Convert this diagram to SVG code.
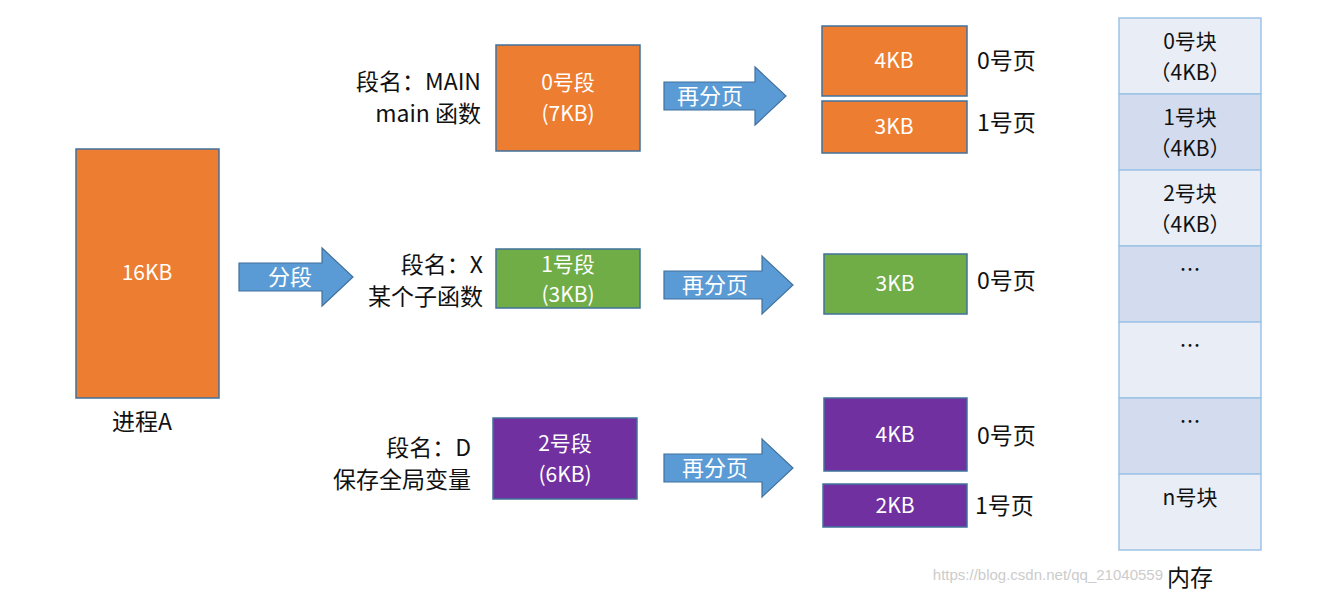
<svg xmlns="http://www.w3.org/2000/svg" width="1321" height="594" viewBox="0 0 1321 594">
<style>
.t{font-family:"Noto Sans CJK SC","Noto Sans",sans-serif;font-size:23px;fill:#111;}
.w{font-family:"Noto Sans CJK SC","Noto Sans",sans-serif;font-size:21px;fill:#fff;text-anchor:middle;}
.m{font-family:"Noto Sans CJK SC","Noto Sans",sans-serif;font-size:21px;fill:#111;text-anchor:middle;}
.o{fill:#ed7d31;stroke:#41719c;stroke-width:1.5}
.g{fill:#70ad47;stroke:#41719c;stroke-width:1.5}
.p{fill:#7030a0;stroke:#41719c;stroke-width:1.5}
.a{fill:#5b9bd5;stroke:#41719c;stroke-width:1.2}
.l{fill:#e9edf5;stroke:#9dc3e6;stroke-width:1.5}
.d{fill:#d3dcee;stroke:#9dc3e6;stroke-width:1.5}
.at{font-family:"Noto Sans CJK SC","Noto Sans",sans-serif;font-size:22px;fill:#fff;text-anchor:middle;}
</style>
<rect width="1321" height="594" fill="#fff"/>
<g id="connectors">
<path class="a" d="M239 263H322V248L353 277L322 306V291H239Z"/><text class="at" x="290" y="285">分段</text>
<path class="a" d="M664 82H755V67L786 96L755 125V110H664Z"/><text class="at" x="710" y="104">再分页</text>
<path class="a" d="M664 271H762V256L793 285L762 314V299H664Z"/><text class="at" x="715" y="293">再分页</text>
<path class="a" d="M664 454H762V439L793 468L762 497V482H664Z"/><text class="at" x="715" y="476">再分页</text>
</g>
<g id="procA"><rect class="o" x="76" y="149" width="143" height="249"/><text class="w" x="147" y="280">16KB</text><text class="t" x="112" y="430">进程A</text></g>
<g id="seg0"><rect class="o" x="496" y="45" width="144" height="106"/><text class="w" x="568" y="90">0号段</text><text class="w" x="568" y="121">(7KB)</text>
<text class="t" x="481" y="90" text-anchor="end">段名：MAIN</text><text class="t" x="481" y="122" text-anchor="end">main 函数</text></g>
<g id="seg1"><rect class="g" x="496" y="249" width="144" height="59"/><text class="w" x="568" y="272">1号段</text><text class="w" x="568" y="302">(3KB)</text>
<text class="t" x="483" y="273" text-anchor="end">段名：X</text><text class="t" x="483" y="305" text-anchor="end">某个子函数</text></g>
<g id="seg2"><rect class="p" x="493" y="418" width="144" height="81"/><text class="w" x="565" y="451">2号段</text><text class="w" x="565" y="482">(6KB)</text>
<text class="t" x="471" y="456" text-anchor="end">段名：D</text><text class="t" x="471" y="488" text-anchor="end">保存全局变量</text></g>
<g id="p00"><rect class="o" x="822" y="26" width="145" height="70"/><text class="w" x="894" y="68">4KB</text><text class="t" x="977" y="69">0号页</text></g>
<g id="p01"><rect class="o" x="822" y="101" width="145" height="52"/><text class="w" x="894" y="134">3KB</text><text class="t" x="977" y="131">1号页</text></g>
<g id="p10"><rect class="g" x="824" y="254" width="143" height="60"/><text class="w" x="895" y="291">3KB</text><text class="t" x="977" y="289">0号页</text></g>
<g id="p20"><rect class="p" x="824" y="398" width="143" height="73"/><text class="w" x="895" y="442">4KB</text><text class="t" x="977" y="444">0号页</text></g>
<g id="p21"><rect class="p" x="823" y="484" width="144" height="43"/><text class="w" x="895" y="513">2KB</text><text class="t" x="975" y="514">1号页</text></g>
<g id="memory">
<rect class="l" x="1119" y="18" width="142" height="76"/><text class="m" x="1190" y="49">0号块</text><text class="m" x="1190" y="80">（4KB）</text>
<rect class="d" x="1119" y="94" width="142" height="76"/><text class="m" x="1190" y="125">1号块</text><text class="m" x="1190" y="156">（4KB）</text>
<rect class="l" x="1119" y="170" width="142" height="76"/><text class="m" x="1190" y="201">2号块</text><text class="m" x="1190" y="232">（4KB）</text>
<rect class="d" x="1119" y="246" width="142" height="76"/><text class="m" x="1190" y="277">…</text>
<rect class="l" x="1119" y="322" width="142" height="76"/><text class="m" x="1190" y="353">…</text>
<rect class="d" x="1119" y="398" width="142" height="76"/><text class="m" x="1190" y="429">…</text>
<rect class="l" x="1119" y="474" width="142" height="76"/><text class="m" x="1190" y="505">n号块</text>
<text class="t" x="1190" y="586" text-anchor="middle" font-size="25">内存</text>
</g>
<text x="1163" y="580" text-anchor="end" font-family="Liberation Sans,sans-serif" font-size="15" fill="#ccc">https://blog.csdn.net/qq_21040559</text>
</svg>
